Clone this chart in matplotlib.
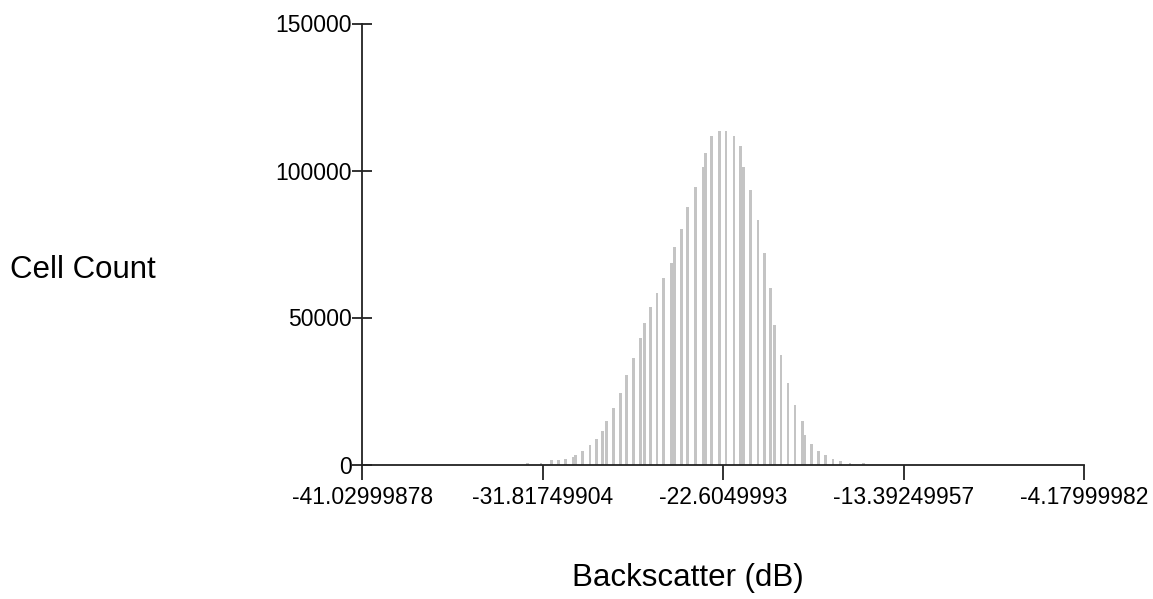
import matplotlib
matplotlib.use("Agg")
import matplotlib.pyplot as plt

plt.rcParams['font.family'] = ['Liberation Sans', 'DejaVu Sans']

# Histogram of backscatter values (dB): bin centres and cell counts
bin_centers = [
    -32.589, -31.910, -31.373, -31.015, -30.658, -30.275, -30.137, -29.804,
    -29.411, -29.079, -28.772, -28.578, -28.205, -27.863, -27.556, -27.183,
    -26.841, -26.621, -26.330, -25.988, -25.650, -25.242, -25.093, -24.746,
    -24.414, -24.031, -23.612, -23.509, -23.213, -22.789, -22.472, -22.063,
    -21.721, -21.578, -21.205, -20.837, -20.495, -20.199, -19.979, -19.662,
    -19.304, -18.947, -18.579, -18.436, -18.088, -17.731, -17.373, -17.005,
    -16.607, -16.136, -15.446,
]
cell_counts = [
    600, 600, 1400, 1400, 2000, 2650, 3300, 4700,
    6700, 8800, 11500, 14900, 19100, 24400, 30600, 36100,
    42900, 48200, 53600, 58400, 63300, 68600, 74000, 80200,
    87600, 94400, 101200, 106100, 111700, 113600, 113600, 111700,
    108200, 101200, 93300, 83100, 72100, 59900, 47600, 37200,
    27800, 20200, 14800, 10100, 6900, 4700, 3300, 2000,
    1300, 600, 600,
]

x_ticks = [-41.02999878, -31.81749904, -22.6049993, -13.39249957, -4.17999982]
x_tick_labels = ["-41.02999878", "-31.81749904", "-22.6049993",
                 "-13.39249957", "-4.17999982"]
y_ticks = [0, 50000, 100000, 150000]
y_tick_labels = ["0", "50000", "100000", "150000"]

fig = plt.figure(figsize=(11.53, 5.99), dpi=100)
ax = fig.add_axes([362.3 / 1153, 134.5 / 599, 722.0 / 1153, 441.0 / 599])

ax.bar(bin_centers, cell_counts, width=0.14, color="#c4c4c4",
       edgecolor="none", align="center")

ax.set_xlim(x_ticks[0], x_ticks[-1])
ax.set_ylim(0, 150000)

ax.set_xticks(x_ticks)
ax.set_xticklabels(x_tick_labels)
ax.set_yticks(y_ticks)
ax.set_yticklabels(y_tick_labels)

for side in ("top", "right"):
    ax.spines[side].set_visible(False)
for side in ("left", "bottom"):
    ax.spines[side].set_color("#222222")
    ax.spines[side].set_linewidth(1.3)

ax.tick_params(axis="x", direction="out", length=11, width=1.3,
               color="#222222", pad=4.5, labelsize=16.5)
ax.tick_params(axis="y", direction="inout", length=14.5, width=1.3,
               color="#222222", pad=0, labelsize=16.5)

fig.text(10 / 1153, 1 - 270 / 599, "Cell Count", fontsize=22.5,
         ha="left", va="center")
fig.text(688 / 1153, 1 - 578 / 599, "Backscatter (dB)", fontsize=22.5,
         ha="center", va="center")

fig.savefig("out.png", dpi=100)
